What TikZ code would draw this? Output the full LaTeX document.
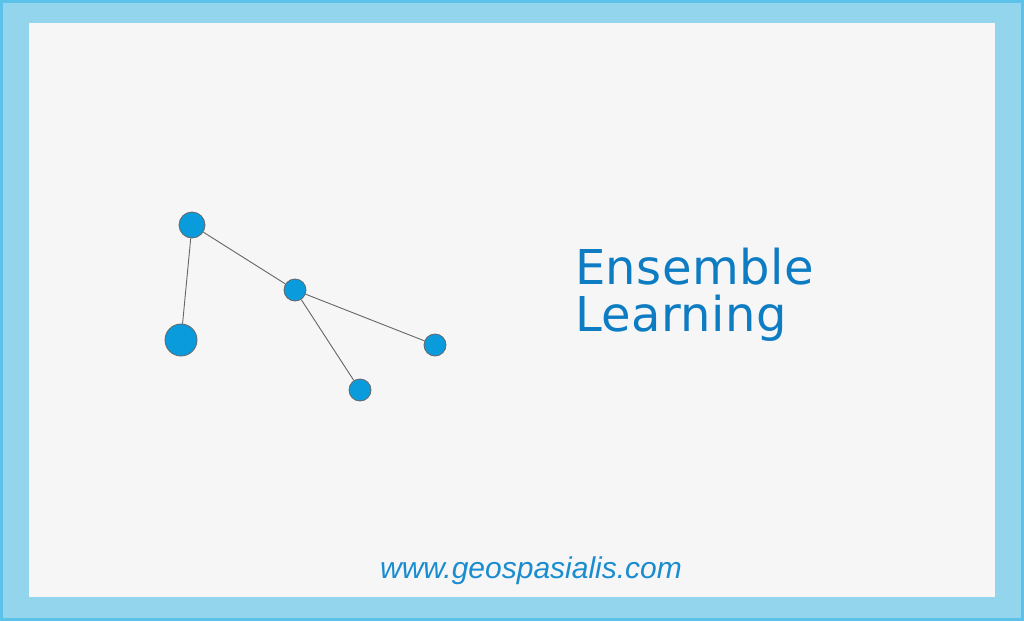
\documentclass[tikz,border=0pt]{standalone}
\usepackage{fontspec}
\newfontfamily\titlefont[LetterSpace=1]{DejaVu Sans}
\newfontfamily\urlfont{Liberation Sans}
\usepackage{tikz}
\definecolor{frameblue}{HTML}{93D5EC}
\definecolor{edgeblue}{HTML}{5CC2EA}
\definecolor{paper}{HTML}{F6F6F6}
\definecolor{dotblue}{HTML}{0A9BDD}
\definecolor{textblue}{HTML}{0E7CC3}
\definecolor{urlblue}{HTML}{1A8CD0}
\tikzset{dot/.style={circle, draw=black!60, fill=dotblue, inner sep=0pt, line width=0.8pt},
  link/.style={draw=black!60, line width=0.9pt}}

\begin{document}
\begin{tikzpicture}[x=1pt, y=-1pt]
  \useasboundingbox (0, 0) rectangle (1024, 621);
  \fill[frameblue] (0, 0) rectangle (1024, 621);
  \draw[edgeblue, line width=3pt] (1.5, 1.5) rectangle (1022.5, 619.5);
  \fill[paper] (29, 23) rectangle (995, 597);

  \node[dot, minimum size=26pt] at (192, 225) (root) {};
  \node[dot, minimum size=32pt] at (181, 340) (leafA) {};
  \node[dot, minimum size=22pt] at (295, 290) (hub) {};
  \node[dot, minimum size=22pt] at (435, 345) (leafB) {};
  \node[dot, minimum size=22pt] at (360, 390) (leafC) {};
  \draw[link] (root) -- (leafA);
  \draw[link] (root) -- (hub);
  \draw[link] (hub) -- (leafB);
  \draw[link] (hub) -- (leafC);

  % base of the last line
  \node[anchor=base west, inner sep=0pt, text=textblue, align=left,
    font=\titlefont\fontsize{48}{47}\selectfont] at (575, 331) (title)
    {Ensemble\\Learning};
  \node[anchor=base, inner sep=0pt, text=urlblue,
    font=\urlfont\itshape\fontsize{30}{32}\selectfont] at (531, 578) (url)
    {www.geospasialis.com};
\end{tikzpicture}
\end{document}
